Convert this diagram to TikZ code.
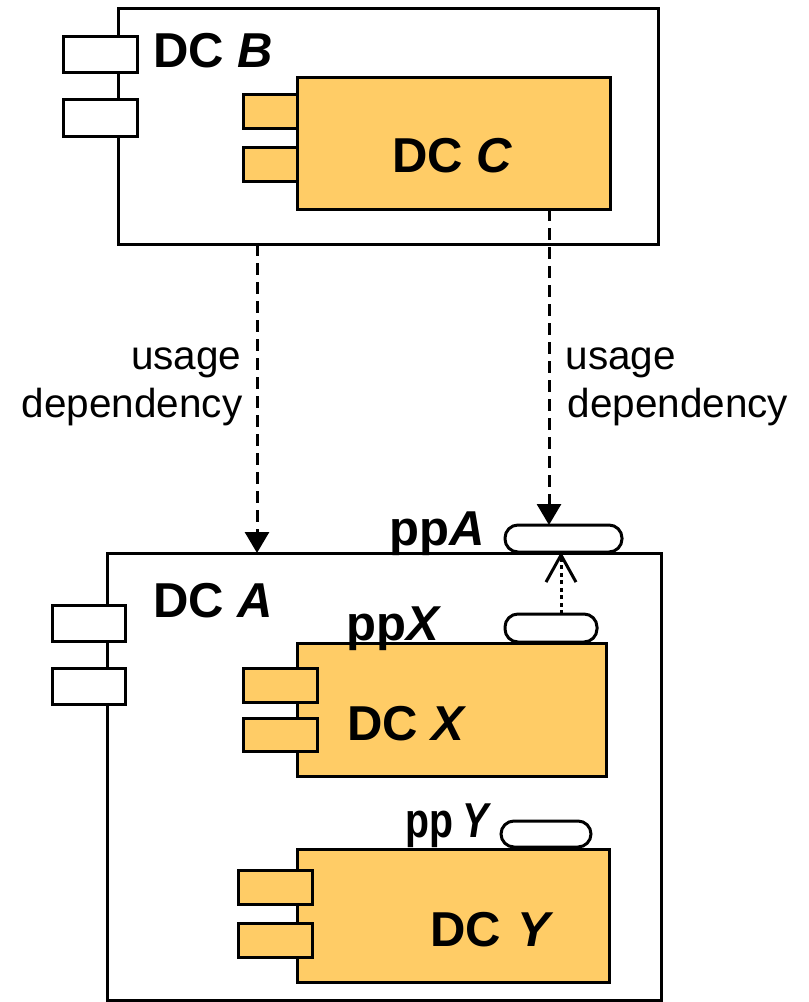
\documentclass[tikz,border=0pt]{standalone}
\usepackage{fontspec}
\setmainfont{Liberation Sans}
\usetikzlibrary{arrows.meta}
\definecolor{dcfill}{RGB}{255,204,102}

\begin{document}
\begin{tikzpicture}[x=1pt,y=-1pt,line width=3pt,
  comp/.style={draw,inner sep=0pt,outer sep=0pt,anchor=north west},
  port/.style={draw,inner sep=0pt,outer sep=0pt,anchor=north west},
  pill/.style={draw,fill=white,rounded corners=13pt,inner sep=0pt,outer sep=0pt,anchor=north west},
  title/.style={font=\fontsize{49}{49}\selectfont\bfseries,anchor=base west,inner sep=0pt},
  note/.style={font=\fontsize{40.5}{50}\selectfont,inner sep=0pt},
  dep/.style={dash pattern=on 12pt off 7pt,-{Triangle[width=24pt,length=21pt]}},
  deleg/.style={dash pattern=on 4pt off 3.5pt,-{Straight Barb[width=30pt,length=27pt]}}]

\fill[white] (0,0) rectangle (809,1002);
\path[use as bounding box] (0,0) rectangle (809,1002);

% component B with nested component C
\node[comp,fill=white,minimum width=540pt,minimum height=236pt] (B) at (118,8) {};
\node[port,fill=white,minimum width=74pt,minimum height=36pt] (Bp1) at (63,36) {};
\node[port,fill=white,minimum width=74pt,minimum height=37pt] (Bp2) at (63,99) {};
\node[title] (Blbl) at (152,67) {DC \textit{B}};

\node[comp,fill=dcfill,minimum width=313pt,minimum height=132pt] (C) at (297,77) {};
\node[port,fill=dcfill,minimum width=54pt,minimum height=34pt] (Cp1) at (243,94) {};
\node[port,fill=dcfill,minimum width=54pt,minimum height=34pt] (Cp2) at (243,147) {};
\node[title] (Clbl) at (391,172) {DC \textit{C}};

% component A with nested components X and Y
\node[comp,fill=white,minimum width=554pt,minimum height=447pt] (A) at (107,553) {};
\node[port,fill=white,minimum width=73pt,minimum height=36pt] (Ap1) at (52,605) {};
\node[port,fill=white,minimum width=73pt,minimum height=36pt] (Ap2) at (52,668) {};
\node[title] (Albl) at (152,617) {DC \textit{A}};

\node[pill,minimum width=117pt,minimum height=27pt] (ppA) at (505,525) {};
\node[title] (ppAlbl) at (388,545) {pp\textit{A}};

\node[comp,fill=dcfill,minimum width=309pt,minimum height=133pt] (X) at (297,643) {};
\node[port,fill=dcfill,minimum width=74pt,minimum height=34pt] (Xp1) at (243,668) {};
\node[port,fill=dcfill,minimum width=74pt,minimum height=33pt] (Xp2) at (243,718) {};
\node[title] (Xlbl) at (346,740) {DC \textit{X}};
\node[pill,minimum width=92pt,minimum height=28pt] (ppX) at (505,614) {};
\node[title] (ppXlbl) at (345,640) {pp\textit{X}};

\node[comp,fill=dcfill,minimum width=312pt,minimum height=133pt] (Y) at (297,849) {};
\node[port,fill=dcfill,minimum width=74pt,minimum height=34pt] (Yp1) at (238,870) {};
\node[port,fill=dcfill,minimum width=74pt,minimum height=34pt] (Yp2) at (238,923) {};
\node[title] (Ylbl) at (429,946) {DC\hspace{16pt}\textit{Y}};
\node[pill,minimum width=90pt,minimum height=26pt] (ppY) at (501,821) {};
\node[title] (ppYlbl) at (404,837) {\scalebox{0.8}[1]{pp\hspace{12pt}\textit{Y}}};

% usage dependencies
\draw[dep] ([xshift=139pt]B.south west) -- ([xshift=150pt]A.north west);
\draw[dep] ([xshift=252pt]C.south west) -- ([xshift=44pt]ppA.north west);
\node[note,anchor=base east] (u1a) at (243,369) {usage};
\node[note,anchor=base east] (u1b) at (244,417) {dependency};
\node[note,anchor=base west] (u2a) at (564,369) {usage};
\node[note,anchor=base west] (u2b) at (566,417) {dependency};

% delegation from ppX to ppA
\draw[deleg] ([xshift=56pt]ppX.north west) -- ([xshift=56pt]ppA.south west);
\end{tikzpicture}
\end{document}
